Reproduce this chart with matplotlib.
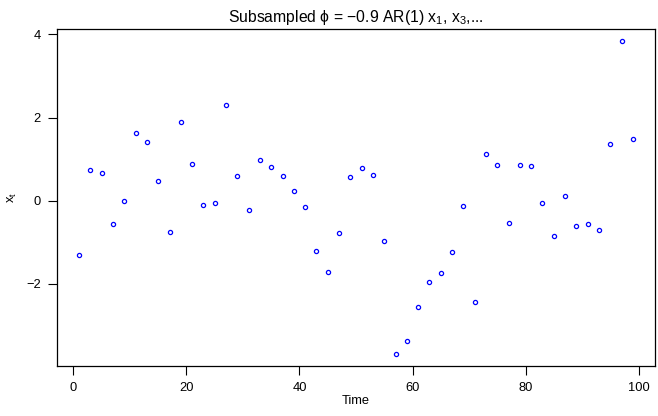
import matplotlib
matplotlib.use("Agg")
import matplotlib.pyplot as plt

plt.rcParams["font.family"] = ["Liberation Sans", "DejaVu Sans"]
plt.rcParams["mathtext.fontset"] = "custom"
plt.rcParams["mathtext.rm"] = "Liberation Sans"
plt.rcParams["mathtext.it"] = "Liberation Sans:italic"
plt.rcParams["font.size"] = 9.3

# time index of the subsample (every other point)
time = list(range(1, 100, 2))
xt = [-1.31, 0.73, 0.66, -0.57, -0.01, 1.63, 1.40, 0.47, -0.75, 1.89,
      0.88, -0.11, -0.06, 2.31, 0.59, -0.22, 0.98, 0.82, 0.60, 0.24,
      -0.16, -1.21, -1.72, -0.79, 0.56, 0.78, 0.62, -0.96, -3.68, -3.39,
      -2.56, -1.95, -1.74, -1.23, -0.12, -2.43, 1.11, 0.85, -0.53, 0.86,
      0.83, -0.05, -0.85, 0.12, -0.62, -0.56, -0.71, 1.36, 3.83, 1.49]
xticks = [0, 20, 40, 60, 80, 100]
yticks = [-2, 0, 2, 4]

fig = plt.figure(figsize=(6.58, 4.16), dpi=100)
ax = fig.add_axes([57 / 658, 50 / 416, 598 / 658, 337 / 416])

ax.plot(time, xt, linestyle="none", marker="o", markersize=3.0,
        markerfacecolor="none", markeredgecolor="blue", markeredgewidth=0.9)

ax.margins(x=0.04, y=0.04)
ax.set_xticks(xticks)
ax.set_yticks(yticks)
ax.set_yticklabels(["\u22122", "0", "2", "4"])
ax.tick_params(direction="out", length=6.5, width=0.8, pad=5, colors="black")
for s in ax.spines.values():
    s.set_linewidth(0.9)

ax.set_title("Subsampled \u03d5 = \u22120.9 AR(1) x$_{\\mathrm{1}}$, x$_{\\mathrm{3}}$,...",
             fontsize=11.3, pad=5)
ax.set_xlabel("Time", labelpad=1)
ax.set_ylabel("x$_{\\mathrm{t}}$", labelpad=5)

fig.savefig("out.png", dpi=100, facecolor="white")
